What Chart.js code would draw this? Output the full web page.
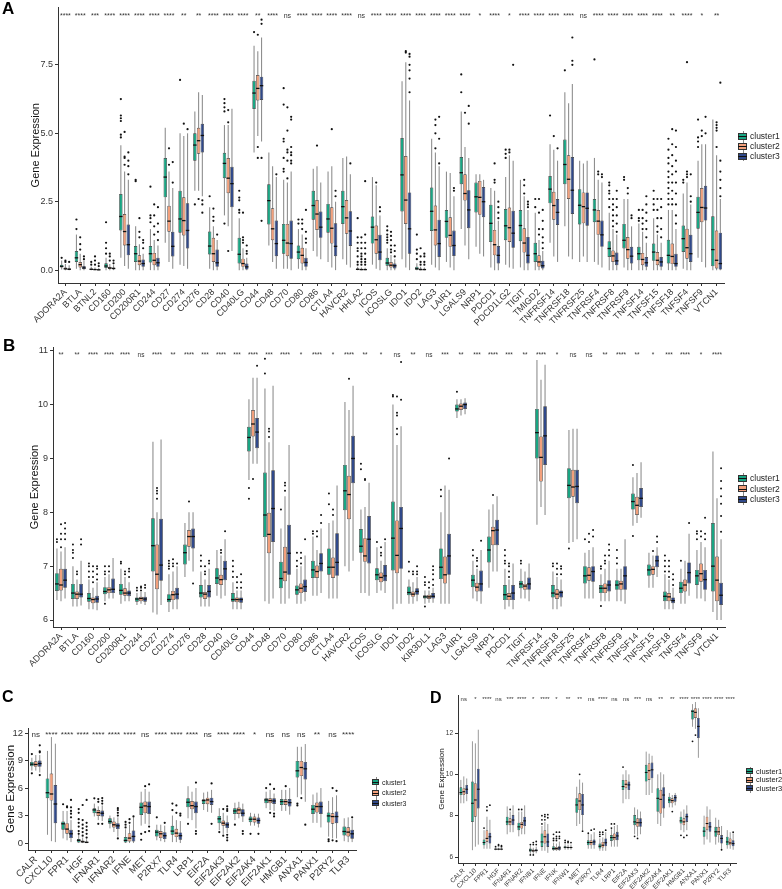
<!DOCTYPE html>
<html><head><meta charset="utf-8">
<script src="https://cdn.jsdelivr.net/npm/chart.js"></script>
<style>
html,body{margin:0;padding:0;background:#fff;}
body{width:782px;height:889px;position:relative;overflow:hidden;font-family:'Liberation Sans',Arial,sans-serif;}
canvas{position:absolute;}
.tag{position:absolute;font-weight:bold;color:#000;line-height:1;z-index:6}
.leg{position:absolute;color:#222;line-height:1;z-index:5}
.leg .row{display:flex;align-items:center;white-space:nowrap}
.leg .key{position:relative;margin-right:3px;display:inline-block}
.leg .wh{position:absolute;left:50%;top:0;bottom:0;width:1px;background:#888;}
.leg .bx{position:absolute;left:0;right:0;border:1px solid #333;box-sizing:border-box}
.leg .md{position:absolute;left:0;right:0;top:50%;height:1px;background:#111}
</style></head><body>
<div class="tag" style="left:2px;top:0px;font-size:17px">A</div>
<div class="tag" style="left:3px;top:337px;font-size:17px">B</div>
<div class="tag" style="left:2px;top:689px;font-size:16px">C</div>
<div class="tag" style="left:430px;top:690px;font-size:16px">D</div>
<canvas id="cA" width="782" height="338" style="left:0;top:0"></canvas>
<canvas id="cB" width="782" height="352" style="left:0;top:336px"></canvas>
<canvas id="cC" width="390" height="201" style="left:0;top:688px"></canvas>
<canvas id="cD" width="392" height="201" style="left:390px;top:688px"></canvas>
<script>
// ---------- Panel A ----------
const catsA = ['ADORA2A','BTLA','BTNL2','CD160','CD200','CD200R1','CD244','CD27','CD274','CD276','CD28','CD40','CD40LG','CD44','CD48','CD70','CD80','CD86','CTLA4','HAVCR2','HHLA2','ICOS','ICOSLG','IDO1','IDO2','LAG3','LAIR1','LGALS9','NRP1','PDCD1','PDCD1LG2','TIGIT','TMIGD2','TNFRSF14','TNFRSF18','TNFRSF25','TNFRSF4','TNFRSF8','TNFRSF9','TNFSF14','TNFSF15','TNFSF18','TNFSF4','TNFSF9','VTCN1'];
const sigA = ['****','****','***','****','****','****','****','****','**','**','****','****','****','**','****','ns','****','****','****','****','ns','****','****','****','****','****','****','****','*','****','*','****','****','****','****','ns','****','****','****','****','****','**','****','*','**'];
const ticksA = [0, 2.5, 5, 7.5];
// [min, q1, median, q3, max]
const A1 = [[0.02,0.1,0.14,0.2,0.35],[0.05,0.3,0.45,0.7,1.3],[0,0.01,0.03,0.06,0.12],[0,0.08,0.15,0.25,0.45],[0.45,1.45,1.96,2.78,4.56],[0,0.3,0.6,0.88,1.6],[0,0.28,0.6,0.88,1.5],[1.0,2.66,3.4,4.1,5.2],[0.2,1.37,1.87,2.9,5.0],[2.9,4.0,4.57,5.0,5.8],[0.05,0.57,0.88,1.41,2.3],[2.0,3.36,3.9,4.29,5.3],[0,0.24,0.58,1.18,1.9],[4.3,5.89,6.47,6.92,8.2],[0.9,1.67,2.54,3.14,4.3],[0.05,0.6,1.09,1.69,3.3],[0.05,0.4,0.66,0.9,1.5],[0.7,1.84,2.36,2.9,3.7],[0.3,1.37,1.87,2.42,3.6],[0.4,1.69,2.32,2.9,4.1],[0,0.01,0.03,0.06,0.12],[0.2,0.97,1.57,1.96,3.4],[0,0.16,0.26,0.45,0.8],[0.4,2.14,3.48,4.83,6.9],[0,0.01,0.05,0.12,0.25],[0.2,1.43,2.15,3.02,4.8],[0.3,1.18,1.78,2.2,3.6],[1.5,3.14,3.56,4.13,5.8],[0.85,2.11,2.68,3.2,3.5],[0.1,1.03,1.71,2.39,3.0],[0.2,1.09,1.62,2.23,3.4],[0.1,1.06,1.63,2.2,3.3],[0,0.3,0.6,1.0,2.1],[1.0,2.44,2.96,3.44,4.6],[1.6,3.14,3.86,4.77,6.5],[0.3,1.67,2.37,2.96,4.0],[0.3,1.75,2.2,2.6,4.1],[0,0.48,0.79,1.06,2.1],[0.1,0.79,1.09,1.69,2.6],[0,0.36,0.6,0.85,1.7],[0,0.34,0.66,0.97,1.9],[0,0.24,0.54,1.11,2.2],[0.05,0.66,1.15,1.63,2.8],[0.45,1.51,2.11,2.68,4.0],[0,0.14,0.75,1.97,5.5]];
const A2 = [[0,0.02,0.05,0.1,0.22],[0,0.1,0.2,0.3,0.6],[0,0,0.02,0.05,0.1],[0,0.04,0.08,0.12,0.22],[0.15,0.9,1.41,2.05,3.6],[0,0.18,0.33,0.54,0.95],[0,0.18,0.36,0.63,1.1],[0.3,1.4,1.79,2.35,3.6],[0.15,1.27,1.81,2.66,4.9],[2.9,4.25,4.73,5.2,6.5],[0,0.3,0.6,1.18,1.6],[1.6,2.81,3.36,4.1,5.3],[0,0.12,0.24,0.42,0.8],[4.9,6.2,6.64,7.13,8.0],[0.3,1.09,1.51,2.26,3.8],[0.05,0.51,0.99,1.69,3.2],[0,0.24,0.54,0.82,1.3],[0.5,1.47,2.05,2.56,3.8],[0.1,0.97,1.53,2.3,3.8],[0.2,1.33,1.91,2.56,4.15],[0,0.01,0.02,0.05,0.1],[0.05,0.6,1.11,1.63,3.1],[0,0.1,0.18,0.3,0.55],[0.1,1.69,2.56,4.17,7.6],[0,0,0.02,0.06,0.12],[0.1,0.9,1.47,2.36,4.3],[0.1,0.85,1.27,1.93,3.55],[0.9,2.54,2.8,3.5,4.5],[0.6,2.02,2.66,3.26,3.5],[0,0.54,0.93,1.47,2.9],[0.1,1.03,1.55,2.29,4.2],[0,0.64,0.99,1.53,2.7],[0,0.12,0.3,0.54,1.1],[0.5,1.84,2.36,2.86,4.4],[0.5,2.6,3.32,4.2,6.1],[0.5,1.71,2.32,2.84,3.9],[0.2,1.29,1.79,2.2,3.3],[0,0.3,0.52,0.72,1.5],[0,0.42,0.75,1.21,2.6],[0,0.18,0.39,0.63,1.4],[0,0.18,0.36,0.66,1.3],[0,0.22,0.5,0.97,2.2],[0,0.42,0.82,1.51,3.2],[0.3,1.75,2.29,3.0,4.6],[0,0.06,0.36,1.45,4.2]];
const A3 = [[0,0.01,0.03,0.07,0.18],[0,0.03,0.08,0.15,0.35],[0,0,0.01,0.04,0.08],[0,0.03,0.06,0.1,0.18],[0.05,0.54,0.93,1.67,3.3],[0,0.12,0.24,0.39,0.6],[0,0.12,0.27,0.45,0.9],[0.05,0.5,0.87,1.4,3.0],[0.05,0.79,1.45,2.44,5.0],[2.7,4.3,4.92,5.35,6.4],[0,0.12,0.27,0.75,1.1],[0.7,2.3,3.16,3.78,5.9],[0,0.02,0.12,0.24,0.45],[4.7,6.22,6.74,7.07,8.5],[0.05,0.51,0.97,1.81,3.4],[0,0.42,0.97,1.81,3.6],[0,0.12,0.28,0.45,0.8],[0.4,1.18,1.57,2.14,3.2],[0,0.51,0.87,1.71,2.5],[0.1,0.88,1.43,2.15,3.5],[0,0,0.02,0.04,0.09],[0,0.36,0.66,1.29,2.0],[0,0.06,0.16,0.24,0.4],[0,0.6,1.51,2.84,6.2],[0,0,0.02,0.05,0.1],[0,0.48,0.97,1.84,3.8],[0,0.52,0.9,1.45,2.7],[0.4,1.53,2.2,2.92,4.1],[0.5,1.93,2.5,3.04,3.3],[0,0.24,0.54,0.88,1.8],[0.05,0.82,1.35,2.17,4.0],[0,0.24,0.54,1.21,2.2],[0,0.06,0.16,0.34,0.7],[0.3,1.65,2.11,2.6,4.0],[0.4,2.05,2.92,4.13,6.8],[0.3,1.62,2.26,2.84,4.0],[0.1,0.85,1.29,1.81,3.2],[0,0.18,0.34,0.64,1.3],[0,0.24,0.51,0.85,1.6],[0,0.12,0.27,0.48,1.0],[0,0.12,0.3,0.48,1.0],[0,0.12,0.24,0.6,1.5],[0,0.3,0.6,1.29,2.4],[0.1,1.81,2.27,3.08,4.6],[0,0.02,0.24,1.37,2.6]];
const OA1 = [[0.45],[1.5,1.85],[0.2,0.3],[0.6,0.8,1.0,1.75],[4.85,4.95,5.45,5.55,5.65,6.25],[3.25,3.3],[1.75,1.9,2.0,3.05],[],[6.95],[2.4],[2.7],[5.8,5.95,6.1,6.25,1.7],[2.1,2.2,2.55,2.65,2.9],[8.7],[],[3.6,3.7,4.1,4.7,4.8,6.05,6.65],[1.7,1.85],[],[],[],[0.2,0.3,0.5,0.7,0.8,1.0,1.2,1.9],[],[1.0,1.1,1.2,1.3,1.45,1.6],[],[0.4,0.6,0.75,1.3],[],[],[6.5,7.15],[],[],[4.1,4.25,4.4],[],[2.3,2.6],[5.65],[7.3],[],[7.7],[2.3,2.6,2.8,2.9,3.1,3.2],[3.3,3.4],[1.8,1.9,2.2],[2.2,2.4,2.6,2.9],[2.4,2.6,2.8,3.0,3.2,3.4,3.6,3.9,4.1,4.4,4.8],[3.2,3.3],[4.5,4.7,4.85,5.5],[]];
const OA2 = [[0.3,0.35],[0.75,0.95,1.2],[0.2,0.35,0.5],[0.35,0.5,0.6],[3.85,4.1,4.15,5.05],[1.2,1.4,1.9],[1.3,1.6,2.0,2.4],[3.85,4.45],[5.35],[2.6],[1.8,1.95,2.25],[5.4,5.85,0.7],[1.0,1.1,1.2,2.1],[8.6,4.5,4.1],[],[3.35,4.0,4.3,4.4,5.1,5.95],[1.5,1.7,1.85],[4.55],[5.15],[],[0.2,0.3,0.4,0.5,0.6,0.8,1.0,1.2],[3.2],[0.65,0.75,0.9,1.1,1.25,1.4],[7.95,8.0],[0.2,0.3,0.5,0.8],[4.45,5.0,5.3,5.5],[],[5.75],[],[3.2,3.3,3.9],[4.3,4.4],[2.8,3.1,3.3],[1.3,1.5,2.1,2.6],[4.9],[],[],[3.5,3.6],[1.6,1.8,2.0,2.2,2.4,2.6],[2.8,3.0],[1.5,1.7,1.9,2.2],[1.4,1.6,1.9,2.2,2.6],[2.4,2.6,2.9,3.2,3.5,3.8,4.2,4.6,5.15],[3.4,3.5,3.6,7.6],[4.9,5.1],[4.5,5.1,5.2,5.3,5.4]];
const OA3 = [[0.3],[0.4,0.5],[0.15,0.25],[0.25,0.35],[3.5,3.8,4.0,4.3],[0.8,1.0,1.1],[1.1,1.4,1.7,2.3],[3.2,3.95],[5.15],[2.1,2.4,2.55],[1.3],[],[0.6,0.7,0.9],[9.0,9.15,4.1,1.8],[3.5],[3.9,4.0,4.2,4.3,4.5,5.5,5.6],[1.0,1.15,1.4,2.2],[],[2.7,2.9],[3.9],[0.2,0.3,0.4,0.6,0.8,1.0,1.3,3.25],[2.15,2.3],[0.5,0.7,0.9],[6.5,7.0,7.3,7.5,7.8,7.9],[0.2,0.3,0.5,0.6],[3.9,4.8,5.6],[2.9,3.0],[5.35,6.0],[],[1.9,2.1,2.3,2.5],[7.5],[2.3,2.4,2.5],[0.8,1.0,1.2,1.5,1.8,2.2],[4.45],[7.5,7.65,8.5],[],[3.4,3.5],[1.4,1.7,2.0,2.3,2.6,2.9],[1.9,2.0],[1.2,1.5,1.8,2.1,2.4,2.7],[1.2,1.5,1.9,2.3,2.6],[1.7,2.0,2.4,2.8,3.2,3.6,4.0,4.5,5.1],[2.5,2.7,3.5],[5.0,5.6],[2.7,3.0,3.3,3.6,4.0,6.85]];

// ---------- Panel B ----------
const catsB = ['ADORA2A','BTLA','CD160','CD200','CD200R1','CD244','CD27','CD274','CD276','CD28','CD40','CD40LG','CD44','CD48','CD70','CD80','CD86','CTLA4','HAVCR2','ICOS','ICOSLG','IDO1','IDO2','KIR3DL1','LAG3','LAIR1','LGALS9','NRP1','PDCD1','TIGIT','TNFRSF14','TNFRSF18','TNFRSF25','TNFRSF4','TNFRSF8','TNFRSF9','TNFSF14','TNFSF15','TNFSF18','TNFSF4','TNFSF9','VTCN1'];
const sigB = ['**','**','****','****','****','ns','****','**','****','***','****','***','****','***','****','*','****','*','****','**','*','ns','**','ns','***','**','***','****','***','**','****','*','ns','ns','**','****','**','*','***','****','*','****'];
const ticksB = [6, 7, 8, 9, 10, 11];
const B1 = [[6.37,6.54,6.67,6.87,7.33],[6.25,6.39,6.5,6.67,7.0],[6.2,6.34,6.4,6.5,6.75],[6.35,6.48,6.53,6.61,6.8],[6.3,6.47,6.55,6.67,6.95],[6.28,6.34,6.39,6.42,6.5],[6.14,6.9,7.38,7.89,9.31],[6.15,6.33,6.38,6.48,6.85],[6.8,7.03,7.25,7.4,7.8],[6.25,6.42,6.5,6.65,6.9],[6.45,6.67,6.78,6.96,7.3],[6.2,6.34,6.38,6.5,6.7],[8.6,9.13,9.39,9.59,10.1],[6.35,7.54,7.95,8.74,10.3],[6.3,6.59,6.77,7.08,7.7],[6.3,6.47,6.56,6.64,6.95],[6.45,6.78,6.93,7.1,7.55],[6.4,6.84,6.98,7.33,7.8],[7.0,8.04,8.4,8.88,10.05],[6.5,7.25,7.37,7.69,8.05],[6.5,6.74,6.84,6.96,7.35],[6.2,6.92,7.52,8.2,10.0],[6.3,6.46,6.51,6.62,6.75],[6.3,6.4,6.43,6.46,6.55],[6.3,6.76,6.98,7.33,8.0],[9.75,9.87,9.92,10.0,10.1],[6.4,6.61,6.74,6.84,7.1],[6.6,7.07,7.3,7.55,8.05],[6.2,6.37,6.47,6.65,6.95],[6.4,6.59,6.67,6.73,6.95],[7.77,9.0,9.48,9.92,10.83],[6.2,6.42,6.5,6.65,6.9],[7.43,8.26,8.5,8.82,9.53],[6.4,6.68,6.82,7.0,7.25],[6.35,6.5,6.59,6.65,6.85],[6.35,6.56,6.65,6.74,6.95],[7.75,8.05,8.2,8.35,8.65],[6.6,6.82,6.93,7.03,7.25],[6.2,6.35,6.44,6.53,6.85],[6.3,6.5,6.59,6.71,6.95],[6.4,6.65,6.82,6.93,7.3],[6.15,6.53,7.0,7.8,9.13]];
const B2 = [[6.35,6.55,6.65,6.95,7.27],[6.25,6.39,6.48,6.53,6.75],[6.2,6.31,6.38,6.42,6.6],[6.4,6.5,6.56,6.61,6.85],[6.35,6.45,6.5,6.59,6.8],[6.3,6.35,6.4,6.43,6.52],[6.1,6.57,6.85,7.4,8.0],[6.2,6.37,6.47,6.54,6.9],[7.1,7.36,7.55,7.67,8.0],[6.25,6.39,6.48,6.52,6.75],[6.4,6.65,6.75,6.84,7.2],[6.2,6.33,6.38,6.42,6.55],[8.9,9.41,9.64,9.9,10.5],[6.3,7.24,7.59,7.99,9.3],[6.3,6.72,6.89,7.36,8.3],[6.3,6.5,6.59,6.68,7.0],[6.45,6.78,6.9,7.01,7.3],[6.4,6.78,6.98,7.16,7.85],[6.9,7.87,8.33,8.68,9.9],[6.5,7.08,7.19,7.52,8.1],[6.55,6.7,6.79,6.88,7.1],[6.3,6.87,7.2,7.85,9.25],[6.3,6.43,6.48,6.53,6.7],[6.32,6.39,6.43,6.47,6.55],[6.3,6.68,6.84,7.18,8.5],[9.8,9.9,9.97,10.02,10.1],[6.35,6.53,6.61,6.69,6.95],[6.9,7.39,7.66,7.73,8.15],[6.25,6.37,6.44,6.5,6.75],[6.4,6.56,6.63,6.67,6.9],[8.1,8.57,9.02,9.41,10.46],[6.2,6.39,6.48,6.57,6.8],[7.45,8.29,8.47,8.79,9.55],[6.4,6.73,6.83,6.98,7.3],[6.35,6.5,6.59,6.68,6.95],[6.35,6.56,6.67,6.73,6.95],[7.8,7.95,8.13,8.29,8.73],[6.6,6.84,6.94,7.0,7.2],[6.2,6.35,6.43,6.5,6.75],[6.3,6.53,6.65,6.75,7.1],[6.4,6.71,6.86,7.05,7.45],[6.0,6.35,6.74,7.18,8.26]];
const B3 = [[6.4,6.6,6.74,6.95,7.35],[6.27,6.42,6.48,6.67,7.1],[6.18,6.32,6.39,6.45,6.7],[6.4,6.5,6.57,6.77,7.15],[6.35,6.44,6.5,6.55,6.7],[6.28,6.34,6.39,6.43,6.52],[6.28,6.73,7.02,7.88,9.35],[6.2,6.38,6.48,6.6,7.0],[6.9,7.33,7.55,7.7,8.0],[6.25,6.42,6.53,6.65,6.95],[6.45,6.74,6.95,7.1,7.5],[6.2,6.32,6.38,6.42,6.55],[8.9,9.19,9.49,9.75,10.5],[6.4,7.45,8.07,8.78,10.35],[6.4,6.84,7.24,7.77,9.25],[6.35,6.52,6.62,6.75,7.2],[6.5,6.9,7.05,7.24,7.7],[6.4,6.82,7.07,7.61,8.5],[7.1,8.54,9.0,9.42,10.35],[6.45,7.05,7.5,7.93,8.55],[6.5,6.72,6.82,7.02,7.45],[6.3,6.95,7.7,8.1,9.6],[6.35,6.47,6.53,6.59,6.8],[6.32,6.4,6.44,6.5,6.6],[6.3,6.84,7.19,7.6,8.42],[9.82,9.92,10.0,10.04,10.12],[6.3,6.53,6.67,6.92,7.3],[6.9,7.39,7.67,7.86,8.3],[6.2,6.37,6.5,6.65,7.05],[6.35,6.56,6.67,6.79,7.05],[7.95,8.88,9.42,9.97,10.74],[6.25,6.42,6.51,6.55,6.75],[7.5,8.17,8.48,8.79,9.55],[6.4,6.71,6.9,7.0,7.35],[6.35,6.53,6.65,6.74,7.1],[6.3,6.56,6.82,7.0,7.5],[7.9,8.1,8.26,8.45,8.93],[6.8,6.98,7.1,7.2,7.35],[6.2,6.31,6.36,6.42,6.6],[6.45,6.68,6.88,7.07,7.6],[6.35,6.56,6.75,6.93,7.35],[6.0,6.28,6.46,6.69,7.5]];
const OB1 = [[7.45,7.5],[7.15,7.25,7.3,7.4],[6.8,6.9,7.0,7.05],[6.85,6.9,7.0,6.3],[7.05,7.08],[6.55,6.6],[],[6.95,7.0,7.05,7.1],[],[7.0,7.1,7.2],[],[6.8,6.9,7.0,7.1],[8.45,8.25],[10.58,10.85],[8.05],[7.0,7.1,7.25],[7.6,7.65],[8.15,8.35],[],[8.8,8.9],[7.45],[10.15,10.18],[6.9,7.08],[6.65,6.7,6.8,6.25],[8.3,8.42],[10.24],[7.2,7.3],[],[7.05,7.1,7.2,7.3],[7.05,7.1],[],[7.0,7.05],[7.33],[7.5],[6.95,7.0,6.26],[7.05,7.15,7.3],[8.88,7.56],[],[6.9,7.0,7.1,7.2],[7.1],[7.5,7.6,7.65],[]];
const OB2 = [[7.35,7.5,7.6,7.78],[6.85,6.9],[6.7,6.8,6.9,7.0],[6.9,7.0],[6.85,6.9],[6.55,6.6,6.62],[8.25,8.35,8.4,8.45],[7.0,7.05,7.13],[8.2],[6.85,6.9,7.0],[7.25,7.3],[6.6,6.7,6.8],[8.62],[9.4,9.5,9.55],[8.4,8.5,8.55],[7.05,7.15,7.25],[7.55,7.65],[7.95,8.05],[10.48],[8.6,8.62],[7.2,7.25,7.35],[9.45,9.55,9.8,9.85,10.15],[6.85,6.9],[6.6,6.7],[],[],[7.0,7.1,7.15],[8.32],[6.8,6.9,7.0,7.05],[],[],[6.85,6.95,7.05],[],[7.45,7.6],[7.05,7.1,7.2],[],[],[7.28],[6.8,6.9,7.0,7.1],[],[7.55,7.65],[]];
const OB3 = [[7.5,7.6,7.7,7.8],[7.4,7.5],[6.75,6.85,6.95,7.0],[],[6.8,6.9,6.95],[6.6,6.65],[],[7.05],[6.68],[7.05,7.1],[7.65],[6.6,6.7,6.85],[10.72],[],[],[7.5],[7.8,7.95],[],[],[],[7.5],[10.09,10.79],[6.85,6.9,7.0],[6.65,6.75,6.85,6.93,7.0],[9.0],[],[7.47],[],[],[],[],[6.85,6.95,7.0],[],[7.55,7.67],[7.2,7.3,7.4],[],[],[7.45,7.55],[6.65,6.75,6.85],[7.8],[7.5,7.6,7.9],[7.64,7.93,8.16,8.3,8.44,8.58,8.82]];

// ---------- Panel C ----------
const catsC = ['CALR','CXCL10','FPR1','HGF','IFNAR1','IFNAR2','IFNE','MET','P2RX7','TLR4','LRP1','EIF2A','EIF2AK3','EIF2AK2','EIF2AK4','EIF2AK1','HMGB1','ANXA1','PANX1','P2RY2','TLR3'];
const sigC = ['ns','****','****','****','****','****','****','ns','****','****','****','ns','****','****','*','ns','ns','ns','**','ns','****'];
const ticksC = [0, 3, 6, 9, 12];
const C1 = [[7.9,8.38,8.6,8.85,9.3],[0.9,4.88,5.49,7.05,10.05],[0.5,1.45,2.1,2.35,3.5],[0,0.07,0.29,0.43,0.9],[2.9,3.25,3.61,3.79,4.3],[1.6,2.1,2.35,2.71,3.0],[0,0,0.29,0.65,1.5],[1.9,3.07,3.9,4.41,5.6],[0.3,0.72,1.19,1.45,2.0],[0.1,0.9,1.3,1.88,3.0],[2.7,3.9,4.45,4.88,6.2],[3.6,4.26,4.63,4.77,5.5],[1.4,2.17,2.64,2.96,3.8],[2.5,3.18,3.5,3.79,4.4],[1.9,2.28,2.6,2.89,3.3],[3.8,4.34,4.7,4.88,5.6],[3.5,4.16,4.52,4.81,5.8],[5.0,7.16,7.88,8.96,10.5],[2.2,3.18,3.69,4.16,5.3],[0.7,2.24,2.96,3.32,4.6],[0.2,0.83,1.26,1.81,2.7]];
const C2 = [[7.9,8.31,8.57,8.93,9.6],[0.2,4.63,5.35,7.59,11.56],[0.3,1.01,1.52,2.17,3.5],[0,0,0.14,0.29,0.6],[2.5,2.96,3.32,3.61,4.0],[1.2,1.7,1.99,2.35,2.8],[0,0.18,0.54,1.08,2.0],[2.1,3.25,4.05,4.52,5.9],[0.2,0.54,1.01,1.3,2.0],[0.1,0.65,1.08,1.55,2.5],[2.5,3.69,4.08,4.59,5.6],[3.4,4.23,4.7,4.95,5.6],[1.0,1.88,2.17,2.46,3.3],[2.7,3.18,3.61,3.87,4.5],[1.9,2.24,2.6,2.89,3.2],[3.6,4.34,4.63,4.88,5.8],[3.5,4.16,4.52,4.77,5.8],[5.3,7.3,8.24,8.96,10.5],[2.2,3.32,3.98,4.41,5.5],[0.5,2.1,2.89,3.25,5.0],[0.1,0.72,1.19,1.73,2.8]];
const C3 = [[7.7,8.31,8.67,9.0,9.6],[0.1,2.17,4.26,6.32,10.84],[0.1,0.54,1.01,1.45,2.5],[0,0,0.07,0.18,0.4],[2.4,2.89,3.25,3.54,4.1],[0.7,1.52,1.88,2.17,2.8],[0,0.18,0.72,1.37,2.8],[2.0,3.18,3.98,4.52,5.6],[0.1,0.43,0.8,1.19,1.9],[0,0.36,0.8,1.16,2.4],[1.6,3.25,3.98,4.52,6.0],[3.3,4.16,4.52,4.95,5.8],[1.1,1.63,1.99,2.28,3.0],[2.3,2.89,3.25,3.69,4.3],[1.7,2.1,2.46,2.78,3.2],[3.5,4.26,4.59,4.88,5.4],[3.1,3.98,4.41,4.81,6.0],[4.5,6.94,8.1,8.85,10.8],[1.7,3.18,3.98,4.52,6.0],[0.5,2.17,2.89,3.43,5.2],[0.1,0.47,1.01,1.45,2.6]];
const OC1 = [[9.7,7.6],[],[4.23],[1.0,1.3,1.8,2.2,2.6,3.3,3.7],[4.88],[],[1.7,2.0,2.3],[1.0,0.36],[2.8],[3.6,4.3],[2.1],[],[1.2],[2.0],[1.0],[6.0],[],[4.3,4.1],[],[0.2,0.4],[]];
const OC2 = [[],[],[3.9,4.0],[0.8,1.2,1.6,2.0,2.5,4.15],[4.5,4.8,2.1],[],[2.2,2.6],[6.2,1.2],[],[3.3,4.1],[],[],[3.7,0.8],[],[],[6.4,3.3],[6.2],[4.9],[],[6.0,0.3],[]];
const OC3 = [[9.9,10.0,10.66,7.41],[],[2.8,3.2,3.5,3.9,4.7],[0.6,1.0,1.4,1.8,2.2,4.7],[4.3,4.6,4.9,2.1],[3.0,3.3,3.6,3.8,0.5],[2.9],[6.4,1.3,1.8],[2.2],[3.0,3.2],[6.6,1.0,1.3],[6.5,2.1],[3.5,3.7,4.0,0.3,0.6,0.9],[1.0,1.3],[1.0],[5.9,2.9,3.2],[],[2.0],[],[5.7,0.2],[2.8]];

// ---------- Panel D ----------
const catsD = ['CALR','CXCL10','FPR1','HGF','IFNAR1','IFNAR2','IFNB1','IFNE','IFNK','IFNW1','MET','P2RX7','TLR4','LRP1','EIF2A','EIF2AK3','EIF2AK2','EIF2AK4','EIF2AK1','HMGB1','ANXA1','PANX1','P2RY2','TLR3'];
const sigD = ['ns','*','****','ns','***','****','*','****','*','**','**','ns','****','ns','ns','***','ns','**','**','****','****','****','****','****'];
const ticksD = [6, 8, 10, 12];
const D1 = [[8.6,9.0,9.12,9.37,9.73],[6.33,7.7,8.6,9.65,11.6],[6.4,6.57,6.7,6.85,7.3],[6.33,6.36,6.38,6.4,6.45],[7.1,7.54,7.7,7.95,8.45],[7.0,7.3,7.46,7.66,8.2],[6.15,6.25,6.33,6.41,6.55],[6.3,6.49,6.73,7.14,7.5],[6.3,6.33,6.41,6.52,6.7],[6.35,6.42,6.47,6.52,6.62],[7.5,8.14,8.52,8.84,9.4],[6.4,6.57,6.7,6.81,7.1],[6.3,6.41,6.52,6.65,6.9],[6.5,6.78,6.94,7.06,7.35],[8.6,9.24,9.41,9.73,10.0],[7.1,7.54,7.7,8.03,8.4],[9.0,9.65,10.09,10.46,11.1],[7.6,8.19,8.84,9.33,10.0],[8.4,8.6,8.76,8.92,9.1],[7.3,7.62,7.75,7.95,8.2],[12.3,12.65,13.05,13.13,13.4],[6.6,6.98,7.25,7.46,8.0],[6.6,6.98,7.22,7.46,7.9],[6.4,6.57,6.73,6.98,7.3]];
const D2 = [[8.6,9.0,9.16,9.33,9.9],[6.5,7.95,8.76,9.57,11.5],[6.4,6.73,6.9,7.3,7.95],[6.33,6.36,6.38,6.4,6.45],[7.2,7.54,7.7,7.87,8.2],[7.1,7.38,7.58,7.7,8.2],[6.15,6.25,6.3,6.36,6.45],[6.3,6.65,6.98,7.3,7.7],[6.3,6.33,6.41,6.49,6.65],[6.35,6.42,6.46,6.5,6.6],[7.6,8.27,8.71,9.08,9.75],[6.4,6.57,6.7,6.81,7.1],[6.3,6.46,6.57,6.73,6.95],[6.5,6.81,6.94,7.14,7.5],[8.8,9.33,9.52,9.73,10.2],[7.0,7.46,7.66,7.87,8.3],[9.0,9.73,10.18,10.54,11.0],[7.5,8.1,8.79,9.25,10.1],[8.4,8.6,8.73,8.84,9.0],[7.2,7.54,7.7,7.87,8.3],[12.2,12.73,13.0,13.2,13.5],[6.85,7.3,7.62,7.95,8.45],[6.7,7.06,7.22,7.46,7.8],[6.4,6.57,6.68,6.9,7.2]];
const D3 = [[8.7,9.05,9.28,9.49,9.8],[6.6,8.35,9.28,10.27,12.16],[6.4,6.65,6.98,7.17,7.8],[6.33,6.36,6.38,6.4,6.45],[7.2,7.54,7.79,8.03,8.5],[7.1,7.5,7.75,7.95,8.5],[6.18,6.27,6.32,6.38,6.5],[6.2,6.49,6.73,7.14,7.6],[6.3,6.33,6.44,6.52,6.75],[6.35,6.42,6.46,6.5,6.6],[7.3,8.03,8.52,9.05,9.6],[6.4,6.57,6.73,6.85,7.2],[6.3,6.52,6.69,6.9,7.2],[6.5,6.81,7.02,7.22,7.55],[8.8,9.24,9.49,9.65,10.0],[7.1,7.46,7.66,7.87,8.2],[9.1,9.81,10.22,10.57,10.9],[7.9,8.35,9.0,9.38,10.0],[8.5,8.68,8.87,9.0,9.1],[7.3,7.7,7.95,8.11,8.5],[10.8,11.76,12.32,12.73,13.2],[6.7,7.22,7.46,7.7,8.3],[6.4,6.65,6.9,7.06,7.5],[6.35,6.52,6.65,6.81,7.15]];
const OD1 = [[],[],[7.4],[6.5],[],[8.3],[6.6,6.1],[7.6,7.8,8.0],[6.8,6.9,7.1],[6.7,6.8],[],[7.15],[7.0,7.1,7.2],[7.4,7.6],[10.35],[7.0],[],[],[],[7.05],[11.6],[],[],[]];
const OD2 = [[],[],[8.25,8.43],[6.55,6.6],[8.3],[8.3],[6.6,6.7,6.1],[7.8,7.95,8.05],[6.8,6.9,7.0,7.2],[6.7,6.75],[10.0],[7.3],[7.1,7.2],[7.6],[],[6.9],[],[],[8.2],[6.95],[11.9],[],[],[]];
const OD3 = [[],[],[8.51],[6.5,6.55],[],[],[6.6,6.75],[7.9,8.05],[6.9,7.0,7.2],[6.7],[7.25],[7.35],[7.3],[],[],[],[],[],[],[7.05],[],[],[6.35],[7.2]];

const clusterNames = ['cluster1','cluster2','cluster3'];
const COLORS = ['#19A583','#F2A07C','#30498A'];

Chart.defaults.font.family = "'Liberation Sans', Arial, sans-serif";

function boxPlugin(cfg, sig) {
  return {
    id: 'boxplot',
    beforeDatasetsDraw(chart) {
      const ctx = chart.ctx, y = chart.scales.y;
      ctx.save();
      ctx.strokeStyle = '#8f8f8f'; ctx.lineWidth = cfg.wl;
      chart.data.datasets.forEach((ds, k) => {
        chart.getDatasetMeta(k).data.forEach((el, i) => {
          const s = ds.stats[i];
          ctx.beginPath();
          ctx.moveTo(el.x, y.getPixelForValue(s[4]));
          ctx.lineTo(el.x, y.getPixelForValue(s[0]));
          ctx.stroke();
        });
      });
      ctx.restore();
    },
    afterDatasetsDraw(chart) {
      const ctx = chart.ctx, y = chart.scales.y, x = chart.scales.x;
      ctx.save();
      chart.data.datasets.forEach((ds, k) => {
        chart.getDatasetMeta(k).data.forEach((el, i) => {
          const s = ds.stats[i], w = el.width / 2, ym = y.getPixelForValue(s[2]);
          ctx.strokeStyle = '#111'; ctx.lineWidth = cfg.med;
          ctx.beginPath(); ctx.moveTo(el.x - w, ym); ctx.lineTo(el.x + w, ym); ctx.stroke();
          ctx.fillStyle = '#111';
          (ds.outs[i] || []).forEach(v => {
            ctx.beginPath(); ctx.arc(el.x, y.getPixelForValue(v), cfg.dot, 0, Math.PI * 2); ctx.fill();
          });
        });
      });
      ctx.fillStyle = '#333';
      ctx.font = cfg.sf + "px 'Liberation Sans', Arial, sans-serif";
      ctx.textAlign = 'center'; ctx.textBaseline = 'middle';
      sig.forEach((t, i) => ctx.fillText(t, x.getPixelForValue(i), y.getPixelForValue(cfg.sigY)));
      ctx.restore();
    }
  };
}

function build(id, cats, stats, outs, sig, ticks, cfg) {
  const datasets = stats.map((s, k) => ({
    label: clusterNames[k],
    data: s.map(v => [v[1], v[3]]),
    stats: s, outs: outs[k],
    backgroundColor: COLORS[k], borderColor: '#3a3a3a', borderWidth: cfg.bw, borderSkipped: false,
    categoryPercentage: 0.76, barPercentage: 0.92
  }));
  const axisGrid = { display: true, drawOnChartArea: false, drawTicks: true, tickLength: 3, color: '#333', lineWidth: 1, offset: false };
  new Chart(document.getElementById(id), {
    type: 'bar',
    data: { labels: cats, datasets },
    plugins: [boxPlugin(cfg, sig)],
    options: {
      responsive: false, animation: false, events: [], devicePixelRatio: 1,
      layout: { padding: { left: cfg.padL, right: cfg.padR, top: cfg.padT, bottom: 0 } },
      plugins: { legend: { display: false }, tooltip: { enabled: false } },
      scales: {
        x: {
          offset: true, grid: axisGrid,
          border: { display: true, color: '#333', width: 1 },
          ticks: { autoSkip: false, minRotation: 45, maxRotation: 45, font: { size: cfg.xf }, color: '#333', padding: 1 },
          afterFit(sc) { sc.height = cfg.xh; }
        },
        y: {
          min: cfg.ymin, max: cfg.ymax, grid: axisGrid,
          border: { display: true, color: '#333', width: 1 },
          ticks: { font: { size: cfg.yf }, color: '#333', padding: 2, callback: v => cfg.fmt(v) },
          afterBuildTicks(sc) { sc.ticks = ticks.map(v => ({ value: v })); },
          title: { display: true, text: 'Gene Expression', font: { size: cfg.tf }, color: '#111', padding: { top: 0, bottom: 0 } },
          afterFit(sc) { sc.width = cfg.yw; }
        }
      }
    }
  });
}

function addLegend(left, top, font, gap, kw, kh) {
  const d = document.createElement('div');
  d.className = 'leg';
  d.style.left = left + 'px'; d.style.top = top + 'px'; d.style.fontSize = font + 'px';
  clusterNames.forEach((n, k) => {
    const r = document.createElement('div'); r.className = 'row'; r.style.height = gap + 'px';
    const key = document.createElement('span'); key.className = 'key';
    key.style.width = kw + 'px'; key.style.height = gap + 'px';
    key.innerHTML = '<i class="wh"></i><i class="bx" style="background:' + COLORS[k] + ';top:' + ((gap - kh) / 2) + 'px;height:' + kh + 'px"></i><i class="md"></i>';
    const t = document.createElement('span'); t.textContent = n;
    r.appendChild(key); r.appendChild(t); d.appendChild(r);
  });
  document.body.appendChild(d);
}

build('cA', catsA, [A1, A2, A3], [OA1, OA2, OA3], sigA, ticksA,
  { padL: 29, padR: 58, padT: 5, yw: 29, xh: 55, ymin: -0.47, ymax: 9.6, sigY: 9.28, xf: 9, yf: 9, tf: 11, sf: 7,
    bw: 0.7, wl: 1.1, med: 1.3, dot: 1.1, fmt: v => v.toFixed(1) });
build('cB', catsB, [B1, B2, B3], [OB1, OB2, OB3], sigB, ticksB,
  { padL: 28, padR: 57, padT: 11, yw: 25, xh: 61, ymin: 5.87, ymax: 11.07, sigY: 10.92, xf: 9, yf: 9, tf: 11, sf: 6.5,
    bw: 0.7, wl: 1.1, med: 1.3, dot: 1.0, fmt: v => String(v) });
build('cC', catsC, [C1, C2, C3], [OC1, OC2, OC3], sigC, ticksC,
  { padL: 4, padR: 34, padT: 40, yw: 24, xh: 39, ymin: -0.76, ymax: 12.55, sigY: 11.85, xf: 9.5, yf: 9.5, tf: 11.5, sf: 8,
    bw: 0.7, wl: 1.0, med: 1.3, dot: 1.1, fmt: v => String(v) });
build('cD', catsD, [D1, D2, D3], [OD1, OD2, OD3], sigD, ticksD,
  { padL: 47, padR: 46, padT: 7, yw: 21, xh: 26, ymin: 5.71, ymax: 13.84, sigY: 13.65, xf: 6.5, yf: 6.5, tf: 8, sf: 6,
    bw: 0.6, wl: 0.9, med: 1.1, dot: 0.9, fmt: v => String(v) });

addLegend(738, 131, 8.5, 10, 9, 7);
addLegend(738, 473, 8.5, 10.5, 9, 7);
addLegend(372, 777, 7, 10.5, 7, 6);
addLegend(746, 767, 7.5, 8.5, 7, 6);
</script>
</body></html>
